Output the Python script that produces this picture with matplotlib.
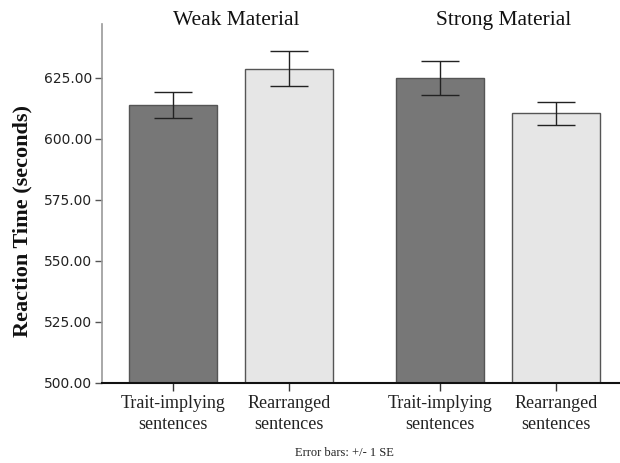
import matplotlib.pyplot as plt
from matplotlib.transforms import blended_transform_factory

# bar data
groups = ["Weak Material", "Strong Material"]
conditions = ["Trait-implying\nsentences", "Rearranged\nsentences"]
means = [613.9, 628.7, 625.1, 610.5]
se = [5.2, 7.2, 6.9, 4.8]
positions = [0.0, 1.0, 2.3, 3.3]
yticks = [500, 525, 550, 575, 600, 625]

DARK = "#777777"
LIGHT = "#e6e6e6"


def main():
    fig = plt.figure(figsize=(6.2, 4.63), dpi=100)
    W, H = 620, 463
    left, right, top, bottom = 102, 620, 24, 383
    ax = fig.add_axes([left / W, 1 - bottom / H, (right - left) / W, (bottom - top) / H])

    colors = [DARK, LIGHT, DARK, LIGHT]
    ax.bar(positions, [m - 500 for m in means], bottom=500, width=0.76,
           color=colors, edgecolor="#555555", linewidth=1.0, zorder=2)
    ax.errorbar(positions, means, yerr=se, fmt="none", ecolor="#222222",
                elinewidth=1.0, capsize=14, capthick=1.0, zorder=3)

    ax.set_xlim(-0.61, 3.85)
    ax.set_ylim(500, 647.1)

    ax.set_yticks(yticks)
    ax.set_yticklabels([f"{v:.2f}" for v in yticks], fontfamily="DejaVu Sans",
                       fontsize=10, color="#222222")
    ax.set_xticks(positions)
    ax.set_xticklabels(conditions * 2, fontfamily="Liberation Serif",
                       fontsize=13, linespacing=1.25, color="#222222")
    ax.tick_params(axis="y", direction="out", length=5, width=1, color="#555555", pad=2)
    ax.tick_params(axis="x", direction="out", length=6, width=1, color="#333333", pad=3)

    ax.spines["top"].set_visible(False)
    ax.spines["right"].set_visible(False)
    ax.spines["left"].set_color("#999999")
    ax.spines["left"].set_linewidth(1.2)
    ax.spines["bottom"].set_color("#111111")
    ax.spines["bottom"].set_linewidth(1.5)

    fig.text(22 / W, 1 - 221 / H, "Reaction Time (seconds)", rotation=90,
             ha="center", va="center", fontfamily="Liberation Serif",
             fontsize=16, fontweight="bold", color="#111111")

    # group headings above each pair of bars
    trans = blended_transform_factory(ax.transData, fig.transFigure)
    for i, name in enumerate(groups):
        xc = (positions[2 * i] + positions[2 * i + 1]) / 2 + 0.05
        ax.text(xc, 1 - 25 / H, name, transform=trans,
                ha="center", va="baseline", fontfamily="Liberation Serif",
                fontsize=15.5, color="#111111")

    fig.text(344 / W, 1 - 453 / H, "Error bars: +/- 1 SE", ha="center", va="center",
             fontfamily="Liberation Serif", fontsize=9, color="#222222")

    fig.savefig("out.png", dpi=100)


if __name__ == "__main__":
    main()
